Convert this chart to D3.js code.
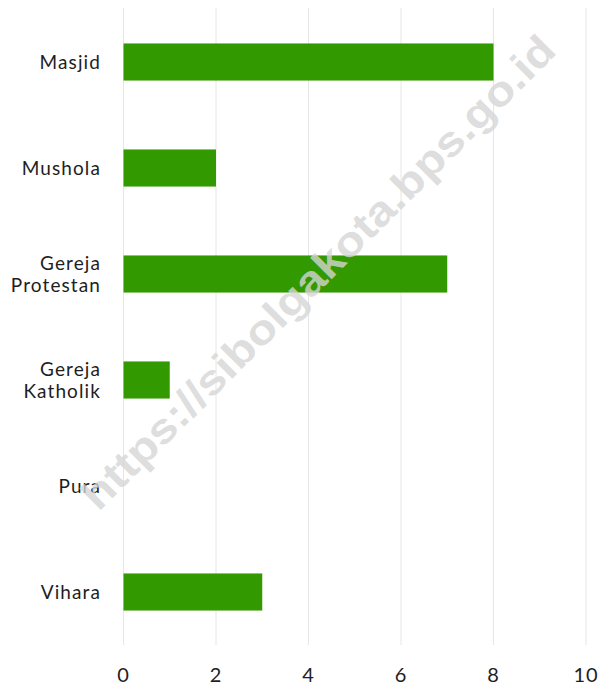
<!DOCTYPE html>
<html><head><meta charset="utf-8">
<script src="https://cdn.jsdelivr.net/npm/d3@7"></script>
<style>body{margin:0;background:#fff}svg{display:block}</style>
</head><body>
<svg id="c" width="599" height="686"></svg>
<script>
const categories = [["Masjid"],["Mushola"],["Gereja","Protestan"],["Gereja","Katholik"],["Pura"],["Vihara"]];
const values = [8, 2, 7, 1, 0, 3];
const xTicks = [0, 2, 4, 6, 8, 10];

const svg = d3.select("#c");
const font = "'Century Gothic','URW Gothic','Lato','Open Sans',sans-serif";
const keys = categories.map(d => d.join(" "));
const x = d3.scaleLinear().domain([0, 10]).range([123.5, 586]);
const y = d3.scaleBand().domain(keys).range([9, 645]).paddingInner(0.65).paddingOuter(0.325);

// gridlines
svg.append("g").selectAll("line").data(xTicks).join("line")
  .attr("x1", d => x(d)).attr("x2", d => x(d)).attr("y1", 8).attr("y2", 645)
  .attr("stroke", "#e6e6e6").attr("stroke-width", 1);

// bars
svg.append("g").selectAll("rect").data(values).join("rect")
  .attr("x", x(0)).attr("y", (d, i) => y(keys[i]))
  .attr("width", d => x(d) - x(0)).attr("height", y.bandwidth())
  .attr("fill", "#339900");

// category labels
const lab = svg.append("g").selectAll("text").data(categories).join("text")
  .attr("text-anchor", "end").attr("font-family", font).attr("font-size", 19)
  .attr("letter-spacing", 1.1).attr("fill", "#1e1e1e")
  .attr("transform", (d, i) => `translate(101,${y(keys[i]) + y.bandwidth() / 2})`);
lab.each(function(d) {
  const t = d3.select(this);
  const n = d.length;
  d.forEach((s, j) => {
    t.append("tspan").attr("x", 0).attr("y", (j - (n - 1) / 2) * 22).attr("dy", "0.35em").text(s);
  });
});

// x axis tick labels
svg.append("g").selectAll("text").data(xTicks).join("text")
  .attr("x", d => x(d)).attr("y", 675).attr("dy", "0.35em")
  .attr("text-anchor", "middle").attr("font-family", font).attr("font-size", 20)
  .attr("letter-spacing", 1).attr("fill", "#1e1e1e").text(d => d);

// watermark
svg.append("text")
  .attr("transform", "translate(318,272) rotate(-45)")
  .attr("text-anchor", "middle").attr("dy", "0.35em")
  .attr("font-family", "Arial,'Liberation Sans',sans-serif").attr("font-weight", "bold")
  .attr("font-size", 42).attr("fill", "#d6d6d6").attr("fill-opacity", 0.8)
  .attr("textLength", 650).attr("lengthAdjust", "spacingAndGlyphs")
  .text("https://sibolgakota.bps.go.id");
</script>
</body></html>
